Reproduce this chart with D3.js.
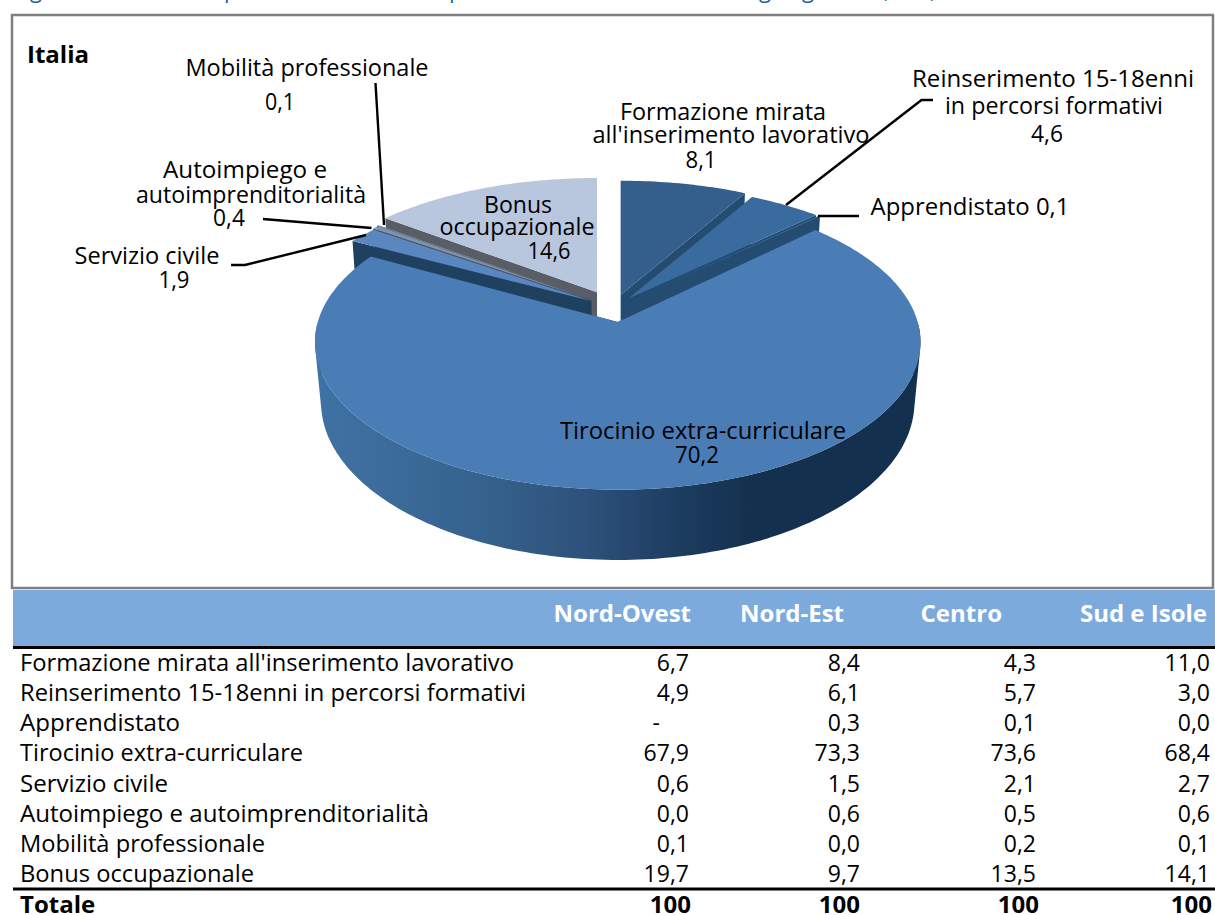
<!DOCTYPE html>
<head>
    <meta charset="utf-8">
</head>

<style type="text/css">
    body { margin: 0; background: #fff; }
    svg { display: block; font-family: "Open Sans", sans-serif; }
    .pie-label { font-size: 23.5px; fill: #000; text-anchor: middle; }
    .leader { fill: none; stroke: #000; stroke-width: 2.4; }
    .cell { font-size: 23px; fill: #000; text-anchor: end; }
    .row-name { font-size: 23.7px; fill: #000; }
    .head { font-size: 24px; font-weight: 700; fill: #fff; text-anchor: end; }
    .title-stub { font-size: 22px; fill: #1f5f99; }
</style>

<body>
<div class="g-chart-container"></div>
</body>

<script src="https://d3js.org/d3.v7.min.js"></script>

<script>

// pie values, Italia
var pieNames = ["Formazione mirata", "Reinserimento", "Apprendistato", "Tirocinio", "Servizio civile", "Autoimpiego", "Mobilita", "Bonus"];
var italia = [8.1, 4.6, 0.1, 70.2, 1.9, 0.4, 0.1, 14.6];

// table
var categories = [
    "Formazione mirata all'inserimento lavorativo",
    "Reinserimento 15-18enni in percorsi formativi",
    "Apprendistato",
    "Tirocinio extra-curriculare",
    "Servizio civile",
    "Autoimpiego e autoimprenditorialità",
    "Mobilità professionale",
    "Bonus occupazionale"
];
var areas = ["Nord-Ovest", "Nord-Est", "Centro", "Sud e Isole"];
var nordOvest = ["6,7", "4,9", "-", "67,9", "0,6", "0,0", "0,1", "19,7"];
var nordEst = ["8,4", "6,1", "0,3", "73,3", "1,5", "0,6", "0,0", "9,7"];
var centro = ["4,3", "5,7", "0,1", "73,6", "2,1", "0,5", "0,2", "13,5"];
var sudIsole = ["11,0", "3,0", "0,0", "68,4", "2,7", "0,6", "0,1", "14,1"];
var totale = ["100", "100", "100", "100"];

var w = 1215, h = 915;

var svg = d3.select(".g-chart-container").append("svg")
    .attr("width", w)
    .attr("height", h);

// only the descenders of the caption are left at the top of the page
var stubGlyphs = ["g", "p", "p", "g", "g", ",", ","];
var stubX = [30, 224, 449, 759, 802, 884, 930];
svg.selectAll(".title-stub")
    .data(stubGlyphs)
    .enter().append("text")
    .attr("class", "title-stub")
    .attr("x", function(d, i) { return stubX[i]; })
    .attr("y", -2)
    .text(function(d) { return d; });

// frame of the chart
svg.append("rect")
    .attr("x", 12).attr("y", 15)
    .attr("width", 1201).attr("height", 573)
    .attr("fill", "#fff")
    .attr("stroke", "#7f7f7f")
    .attr("stroke-width", 2.5);

// ---- pie: perspective projection of a tilted disc
var cx = 613.5, cy = 307.5;
var bigSlice = 3;

// the big slice sits nearer the viewer and needs its own projection
var viewBack = {A: 297.5, B: 136, k: 0.19, lowA: 293, lowB: 145, drop: 55};
var viewBig = {A: 300, B: 145, k: 0.135, lowA: 294, lowB: 155, drop: 58.7};

// how far each slice is pulled out, and colours (same order as italia)
var explode = [0.095, 0.08, 0.08, 0.108, 0.088, 0.095, 0.1, 0.125];
var topColor = ["#345f8c", "#3a6b9e", "#3a6b9e", "#4a7cb6", "#5a87c0", "#7f93b0", "#8fa0b8", "#b8c7dd"];
var wallColor = ["#244b70", "#244b70", "#244b70", "url(#rim)", "#20405f", "#4d5258", "#4d5258", "#595e66"];
var drawOrder = [7, 6, 5, 4, 0, 1, 2, 3];

var pie = d3.pie().sort(null).value(function(d) { return d; });
var slices = pie(italia);

var defs = svg.append("defs");
var rim = defs.append("linearGradient")
    .attr("id", "rim")
    .attr("gradientUnits", "userSpaceOnUse")
    .attr("x1", 315).attr("x2", 920).attr("y1", 0).attr("y2", 0);
[[0, "#3f72a5"], [0.15, "#3a6a98"], [0.3, "#35608c"], [0.45, "#2d517a"], [0.6, "#1d3d60"], [0.72, "#13304e"], [1, "#13304e"]]
    .forEach(function(s) {
        rim.append("stop").attr("offset", s[0]).attr("stop-color", s[1]);
    });

function point(i, theta, r, low) {
    var view = i == bigSlice ? viewBig : viewBack;
    var mid = (slices[i].startAngle + slices[i].endAngle) / 2;
    var u = r * Math.sin(theta), v = -r * Math.cos(theta);
    var p = 1 / (1 - view.k * v);
    return [
        cx + viewBack.A * explode[i] * Math.sin(mid) + (low ? view.lowA : view.A) * u * p,
        cy - viewBack.B * explode[i] * Math.cos(mid) + (low ? view.lowB : view.B) * v * p + (low ? view.drop : 0)
    ];
}

var poly = d3.line().curve(d3.curveLinearClosed);

function arcAngles(s) {
    var n = Math.max(2, Math.ceil((s.endAngle - s.startAngle) / 0.02));
    return d3.range(n + 1).map(function(j) {
        return s.startAngle + (s.endAngle - s.startAngle) * j / n;
    });
}

var pieG = svg.append("g");

drawOrder.forEach(function(i) {
    var s = slices[i];
    var angles = arcAngles(s);
    var g = pieG.append("g");

    // side walls
    [s.startAngle, s.endAngle].forEach(function(a) {
        g.append("path")
            .attr("d", poly([point(i, a, 0, false), point(i, a, 1, false), point(i, a, 1, true), point(i, a, 0, true)]))
            .attr("fill", i == bigSlice ? "#1d3f60" : wallColor[i]);
    });

    // outer wall: front part only, strips wound the same way and joined into one path
    var strips = d3.pairs(angles)
        .filter(function(d) { return Math.cos(d[0]) < 0 && Math.cos(d[1]) < 0; })
        .map(function(d) {
            var q = [point(i, d[0], 1, false), point(i, d[1], 1, false), point(i, d[1], 1, true), point(i, d[0], 1, true)];
            if (d3.polygonArea(q) < 0) q.reverse();
            return poly(q);
        });
    if (strips.length) {
        g.append("path")
            .attr("d", strips.join(""))
            .attr("fill", wallColor[i]);
    }

    // top face
    var topArc = angles.map(function(a) { return point(i, a, 1, false); });
    g.append("path")
        .attr("d", poly([point(i, 0, 0, false)].concat(topArc)))
        .attr("fill", topColor[i]);
});

// ---- leader lines
var leaders = [
    [[375.5, 83], [384, 225]],
    [[263, 219], [371.5, 228]],
    [[231, 265], [245, 265], [366, 235]],
    [[933, 100], [921.5, 100], [786, 205]],
    [[859, 216], [818, 216]]
];
svg.selectAll(".leader")
    .data(leaders)
    .enter().append("path")
    .attr("class", "leader")
    .attr("d", d3.line());

// ---- pie labels: text, centre x, baseline, width on the page
var labelText = ["Mobilità professionale", "0,1", "Autoimpiego e", "autoimprenditorialità", "0,4",
    "Servizio civile", "1,9", "Bonus", "occupazionale", "14,6",
    "Formazione mirata", "all'inserimento lavorativo", "8,1",
    "Reinserimento 15-18enni", "in percorsi formativi", "4,6",
    "Apprendistato 0,1", "Tirocinio extra-curriculare", "70,2"];
var labelX = [307, 280, 245, 251, 229, 147, 174, 518, 517, 549, 723, 731, 701, 1053, 1054, 1047, 970, 703, 697];
var labelY = [76, 110, 178, 203, 226, 264, 288, 213, 235, 259, 120, 143, 168, 87, 114, 142, 215, 439, 463];
var labelW = [243, 30, 164, 230, 32, 145, 31, 68, 155, 43, 206, 277, 31, 282, 218, 32, 199, 286, 44];

svg.selectAll(".pie-label")
    .data(labelText)
    .enter().append("text")
    .attr("class", "pie-label")
    .attr("x", function(d, i) { return labelX[i]; })
    .attr("y", function(d, i) { return labelY[i]; })
    .attr("textLength", function(d, i) { return labelW[i]; })
    .attr("lengthAdjust", "spacingAndGlyphs")
    .text(function(d) { return d; });

svg.append("text")
    .attr("x", 27).attr("y", 63)
    .attr("font-size", 24).attr("font-weight", 700)
    .text("Italia");

// ---- table
svg.append("rect")
    .attr("x", 13).attr("y", 590)
    .attr("width", w - 13).attr("height", 56)
    .attr("fill", "#7daadc");

var columns = [nordOvest, nordEst, centro, sudIsole];
var headX = [691, 844, 1002, 1207];
var colX = [689, 860, 1036, 1210];
var totalX = [691, 860, 1039, 1212];
var rowW = [494, 506, 160, 283, 148, 409, 245, 234];

var rowY = d3.scalePoint()
    .domain(categories)
    .range([671, 882]);

svg.selectAll(".head")
    .data(areas)
    .enter().append("text")
    .attr("class", "head")
    .attr("x", function(d, i) { return headX[i]; })
    .attr("y", 622)
    .text(function(d) { return d; });

svg.append("line")
    .attr("x1", 13).attr("x2", w)
    .attr("y1", 647.5).attr("y2", 647.5)
    .attr("stroke", "#000").attr("stroke-width", 3);

svg.selectAll(".row-name")
    .data(categories)
    .enter().append("text")
    .attr("class", "row-name")
    .attr("x", 20)
    .attr("y", function(d) { return rowY(d); })
    .attr("textLength", function(d, i) { return rowW[i]; })
    .attr("lengthAdjust", "spacingAndGlyphs")
    .text(function(d) { return d; });

columns.forEach(function(col, c) {
    svg.selectAll(".cell-" + c)
        .data(col)
        .enter().append("text")
        .attr("class", "cell cell-" + c)
        .attr("x", function(d) { return d == "-" ? colX[c] - 29 : colX[c]; })
        .attr("y", function(d, i) { return rowY(categories[i]); })
        .text(function(d) { return d; });
});

svg.append("line")
    .attr("x1", 13).attr("x2", w)
    .attr("y1", 889).attr("y2", 889)
    .attr("stroke", "#000").attr("stroke-width", 3);

svg.append("text")
    .attr("x", 20).attr("y", 913)
    .attr("font-size", 24).attr("font-weight", 700)
    .text("Totale");

svg.selectAll(".total")
    .data(totale)
    .enter().append("text")
    .attr("class", "total")
    .attr("x", function(d, i) { return totalX[i]; })
    .attr("y", 913)
    .attr("font-size", 24).attr("font-weight", 700)
    .attr("text-anchor", "end")
    .text(function(d) { return d; });

</script>
